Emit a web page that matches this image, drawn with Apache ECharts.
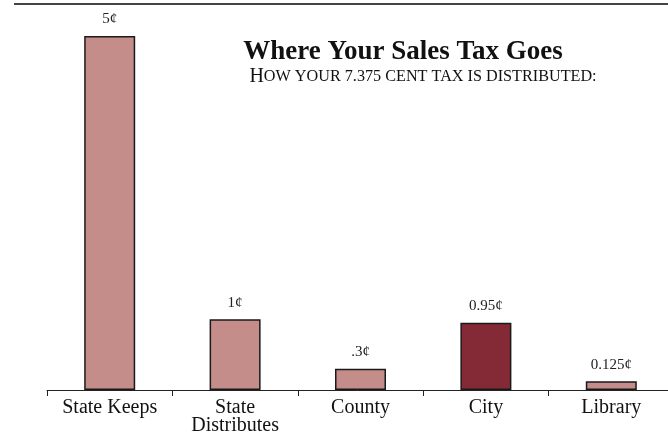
<!DOCTYPE html>
<html>
<head>
<meta charset="utf-8">
<script src="https://cdn.jsdelivr.net/npm/echarts@6/dist/echarts.min.js"></script>
<style>
  html, body { margin: 0; padding: 0; background: #fff; }
  #chart { width: 668px; height: 433px; }
</style>
</head>
<body>
<div id="chart"></div>
<script>
// Where each part of the 7.375 cent sales tax goes
const categories = ['State Keeps', 'State\nDistributes', 'County', 'City', 'Library'];
const values = [5, 1, 0.3, 0.95, 0.125];
const valueLabels = ['5¢', '1¢', '.3¢', '0.95¢', '0.125¢'];
const highlighted = 'City';

const SERIF = '"Liberation Serif", "DejaVu Serif", serif';
const LIGHT = '#c48d8a';
const DARK = '#832a36';

const chart = echarts.init(document.getElementById('chart'), null, { renderer: 'canvas' });

chart.setOption({
  animation: false,
  backgroundColor: '#ffffff',
  title: [
    {
      text: 'Where Your Sales Tax Goes',
      left: 398, top: 34, textAlign: 'center',
      textStyle: { fontFamily: SERIF, fontWeight: 'bold', fontSize: 27, color: '#111' }
    },
    {
      text: '{big|H}{small|OW YOUR 7.375 CENT TAX IS DISTRIBUTED:}',
      left: 418, top: 62, textAlign: 'center',
      textStyle: {
        fontWeight: 'normal',
        rich: {
          big: { fontFamily: SERIF, fontSize: 20, fontWeight: 'normal', color: '#111' },
          small: { fontFamily: SERIF, fontSize: 16.2, fontWeight: 'normal', color: '#111' }
        }
      }
    }
  ],
  graphic: [
    {
      type: 'line', silent: true,
      shape: { x1: 14, y1: 4, x2: 668, y2: 4 },
      style: { stroke: '#444', lineWidth: 2 }
    }
  ],
  grid: { left: 47, width: 627, top: 36, bottom: 43, outerBoundsMode: 'none' },
  xAxis: {
    type: 'category',
    data: categories,
    axisLine: { lineStyle: { color: '#222', width: 1 } },
    axisTick: { show: true, length: 6, lineStyle: { color: '#222' } },
    axisLabel: {
      fontFamily: SERIF, fontSize: 20, color: '#111', lineHeight: 18, margin: 9
    }
  },
  yAxis: {
    type: 'value', min: 0, max: 5,
    show: false,
    splitLine: { show: false }
  },
  series: [{
    type: 'bar',
    barWidth: 51,
    data: values.map((v, i) => ({
      value: v,
      itemStyle: {
        color: categories[i] === highlighted ? DARK : LIGHT,
        borderColor: '#1a1a1a', borderWidth: 1.5
      }
    })),
    label: {
      show: true, position: 'top', distance: 9,
      fontFamily: SERIF, fontSize: 15, color: '#222',
      formatter: p => valueLabels[p.dataIndex]
    }
  }]
});
</script>
</body>
</html>
